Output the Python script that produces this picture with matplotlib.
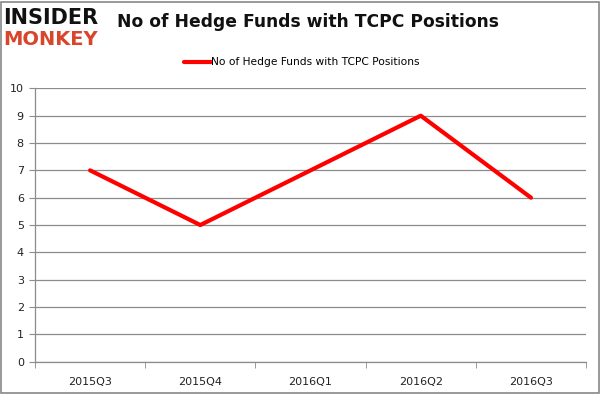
import matplotlib
matplotlib.use("Agg")
import matplotlib.pyplot as plt
from matplotlib.patches import Rectangle

# Data
quarters = ["2015Q3", "2015Q4", "2016Q1", "2016Q2", "2016Q3"]
funds = [7, 5, 7, 9, 6]
series_name = "No of Hedge Funds with TCPC Positions"

fig = plt.figure(figsize=(6.01, 3.95), dpi=100)
ax = fig.add_axes([0.0582, 0.0843, 0.917, 0.692])

ax.plot(range(len(quarters)), funds, color="#ff0000", linewidth=3,
        solid_capstyle="round", label=series_name)

ax.set_xlim(-0.5, len(quarters) - 0.5)
ax.set_ylim(0, 10)
ax.set_yticks(range(0, 11))
ax.set_xticks(range(len(quarters)))
ax.set_xticklabels(quarters)
ax.set_xticks([i - 0.5 for i in range(len(quarters) + 1)], minor=True)

ax.grid(axis="y", color="#8c8c8c", linewidth=0.9)
ax.set_axisbelow(True)
for side in ["top", "right"]:
    ax.spines[side].set_visible(False)
for side in ["left", "bottom"]:
    ax.spines[side].set_color("#8c8c8c")
    ax.spines[side].set_linewidth(0.9)

ax.tick_params(axis="x", which="major", length=0, pad=11, labelsize=8, colors="#222222")
ax.tick_params(axis="x", which="minor", length=4, color="#8c8c8c", direction="out")
ax.tick_params(axis="y", length=4, color="#8c8c8c", labelsize=8, pad=4, colors="#222222")

# Title and legend
fig.text(0.512, 0.945, series_name, ha="center", va="center",
         fontsize=12.3, fontweight="bold", color="#111111")
ax.legend(loc="center", bbox_to_anchor=(0.484, 1.095), frameon=False,
          fontsize=7.7, handlelength=2.6, handletextpad=0.0)

# Logo
fig.text(0.006, 0.955, "INSIDER", ha="left", va="center", fontsize=15,
         fontweight="heavy", color="#111111", family=["Liberation Sans Narrow", "DejaVu Sans"])
fig.text(0.006, 0.9, "MONKEY", ha="left", va="center", fontsize=14,
         fontweight="heavy", color="#d9442b", family=["Liberation Sans Narrow", "DejaVu Sans"])

# Outer frame
fig.patches.append(Rectangle((0.002, 0.006), 0.994, 0.99, transform=fig.transFigure,
                             fill=False, edgecolor="#888888", linewidth=1.2))

fig.savefig("out.png", dpi=100)
